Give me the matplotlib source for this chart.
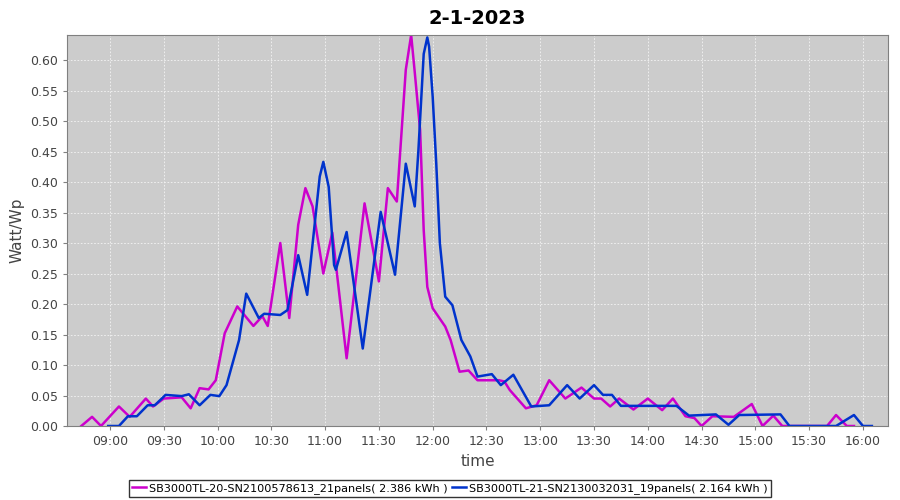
import pandas as pd
import matplotlib.pyplot as plt
import matplotlib.dates as mdates
from matplotlib.ticker import MultipleLocator, FormatStrFormatter

# data (time, Watt/Wp)
sb20_times = ["08:44", "08:50", "08:55", "09:05", "09:11", "09:20", "09:24", "09:30",
              "09:40", "09:45", "09:50", "09:55", "09:59", "10:04", "10:11", "10:20",
              "10:25", "10:28", "10:35", "10:40", "10:45", "10:49", "10:53", "10:59",
              "11:04", "11:12", "11:22", "11:30", "11:35", "11:40", "11:45", "11:48",
              "11:50", "11:53", "11:55", "11:57", "12:00", "12:07", "12:10", "12:15",
              "12:20", "12:25", "12:37", "12:40", "12:43", "12:52", "12:58", "13:05",
              "13:14", "13:23", "13:30", "13:34", "13:39", "13:44", "13:52", "14:00",
              "14:08", "14:14", "14:21", "14:26", "14:30", "14:36", "14:48", "14:58",
              "15:04", "15:10", "15:15", "15:40", "15:45", "15:51", "15:55"]
sb20_vals = [0.000, 0.015, 0.000, 0.032, 0.015, 0.045, 0.032, 0.045,
             0.047, 0.029, 0.062, 0.060, 0.075, 0.152, 0.196, 0.164,
             0.180, 0.164, 0.300, 0.177, 0.330, 0.390, 0.360, 0.250,
             0.317, 0.111, 0.365, 0.237, 0.390, 0.368, 0.584, 0.641,
             0.580, 0.485, 0.321, 0.228, 0.193, 0.163, 0.141, 0.089,
             0.091, 0.075, 0.075, 0.073, 0.059, 0.029, 0.034, 0.075,
             0.045, 0.063, 0.045, 0.045, 0.032, 0.045, 0.027, 0.045,
             0.026, 0.045, 0.016, 0.013, 0.000, 0.016, 0.015, 0.036,
             0.000, 0.017, 0.000, 0.000, 0.018, 0.000, 0.000]

sb21_times = ["08:59", "09:05", "09:10", "09:15", "09:21", "09:25", "09:31", "09:40",
              "09:44", "09:50", "09:56", "10:01", "10:05", "10:12", "10:16", "10:23",
              "10:26", "10:35", "10:39", "10:45", "10:50", "10:57", "10:59", "11:02",
              "11:05", "11:06", "11:12", "11:21", "11:31", "11:39", "11:45", "11:50",
              "11:52", "11:55", "11:57", "11:58", "12:00", "12:02", "12:04", "12:07",
              "12:11", "12:16", "12:21", "12:25", "12:33", "12:38", "12:45", "12:55",
              "13:05", "13:15", "13:22", "13:30", "13:35", "13:40", "13:45", "14:16",
              "14:23", "14:38", "14:45", "14:51", "15:14", "15:19", "15:45", "15:55",
              "16:00", "16:05"]
sb21_vals = [0.000, 0.000, 0.016, 0.016, 0.034, 0.034, 0.051, 0.049,
             0.052, 0.034, 0.051, 0.049, 0.067, 0.141, 0.217, 0.177,
             0.184, 0.182, 0.190, 0.280, 0.215, 0.409, 0.433, 0.392,
             0.264, 0.256, 0.318, 0.127, 0.351, 0.248, 0.430, 0.360,
             0.450, 0.610, 0.637, 0.622, 0.540, 0.430, 0.300, 0.212,
             0.198, 0.141, 0.114, 0.081, 0.085, 0.067, 0.084, 0.032,
             0.034, 0.067, 0.045, 0.067, 0.051, 0.051, 0.033, 0.033,
             0.017, 0.019, 0.002, 0.018, 0.019, 0.000, 0.000, 0.018,
             0.000, 0.000]

labels = ["SB3000TL-20-SN2100578613_21panels( 2.386 kWh )",
          "SB3000TL-21-SN2130032031_19panels( 2.164 kWh )"]
colors = ["#cc00cc", "#0033cc"]
day = "2023-01-02"


def to_dt(times):
    return pd.to_datetime([day + " " + t for t in times])


fig = plt.figure(figsize=(9, 5), dpi=100)
ax = fig.add_axes([0.0744, 0.148, 0.9123, 0.782])
ax.set_facecolor("#cccccc")

ax.plot(to_dt(sb20_times), sb20_vals, color=colors[0], lw=1.8, label=labels[0])
ax.plot(to_dt(sb21_times), sb21_vals, color=colors[1], lw=1.8, label=labels[1])

ax.set_xlim(pd.Timestamp(day + " 08:36"), pd.Timestamp(day + " 16:14"))
ax.set_ylim(0, 0.641)
ax.xaxis.set_major_locator(mdates.MinuteLocator(byminute=[0, 30]))
ax.xaxis.set_major_formatter(mdates.DateFormatter("%H:%M"))
ax.yaxis.set_major_locator(MultipleLocator(0.05))
ax.yaxis.set_major_formatter(FormatStrFormatter("%.2f"))

ax.grid(True, color="#f4f4f4", linestyle=(0, (2, 2)), linewidth=0.6)
ax.set_axisbelow(True)
for s in ax.spines.values():
    s.set_color("#808080")
ax.tick_params(colors="#808080", labelcolor="#444444", labelsize=9, length=3)

ax.set_title("2-1-2023", fontsize=14, fontweight="bold", pad=8)
ax.set_xlabel("time", fontsize=11, color="#444444")
ax.set_ylabel("Watt/Wp", fontsize=11, color="#444444")

leg = fig.legend(loc="lower center", bbox_to_anchor=(0.5, -0.006), ncol=2,
                 fontsize=8.1, frameon=True, fancybox=False, handlelength=1.2,
                 handletextpad=0.3, columnspacing=0.4, borderpad=0.3)
leg.get_frame().set_edgecolor("black")
leg.get_frame().set_linewidth(1.0)

fig.savefig("out.png", dpi=100)
